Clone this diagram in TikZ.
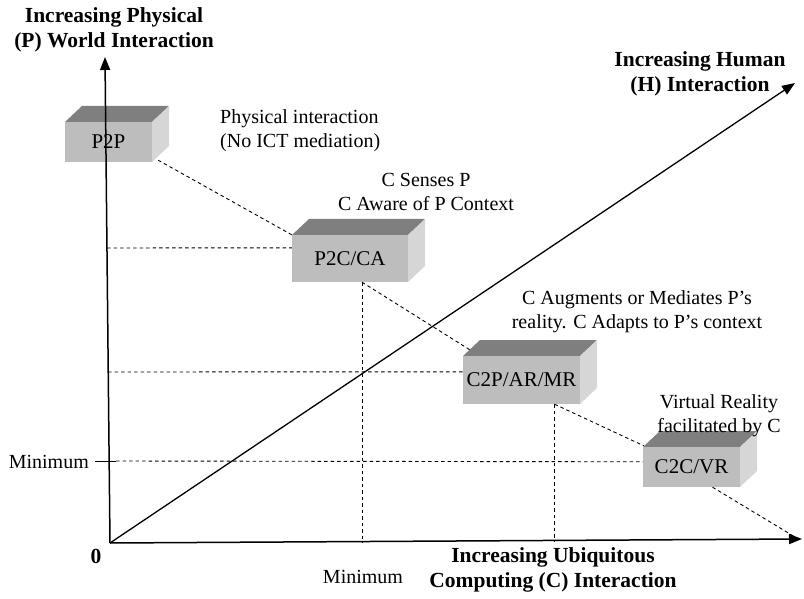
\documentclass[tikz,border=0pt]{standalone}
\usepackage{fontspec}
\setmainfont{Liberation Serif}
\usetikzlibrary{arrows.meta,calc}
\definecolor{boxtop}{HTML}{7F7F7F}
\definecolor{boxfront}{HTML}{BDBDBD}
\definecolor{boxside}{HTML}{D6D6D6}
\newcommand\tdbox[6]{%
  \fill[boxtop] (#2,#3) -- ++(17,-16) -- ({#4+17},{#3-16}) -- (#4,#3) -- cycle;
  \fill[boxside] (#4,#3) -- ++(17,-16) -- ({#4+17},{#5-16}) -- (#4,#5) -- cycle;
  \node[boxface, minimum width={(#4-#2)*1pt}, minimum height={(#5-#3)*1pt}] (#1) at ({(#2+#4)/2},{(#3+#5)/2}) {#6};
}
\begin{document}
\begin{tikzpicture}[x=1pt,y=-1pt,
  axis/.style={line width=1.5pt,-{Triangle[length=13pt,width=10pt]}},
  guide/.style={dash pattern=on 3.5pt off 3pt, line width=0.9pt},
  lbl/.style={font=\fontsize{20}{24}\selectfont, align=center, inner sep=0pt},
  blbl/.style={font=\fontsize{21.5}{24.5}\selectfont\bfseries, inner sep=0pt},
  boxface/.style={fill=boxfront, draw=none, inner sep=0pt, font=\fontsize{21}{24}\selectfont}
]
\useasboundingbox (0,0) rectangle (804,599);

% coordinates
\coordinate (O) at (110,543);
\coordinate (Ytop) at (105,57);
\coordinate (Xend) at (802,539);
\coordinate (Htop) at (795,83);
\coordinate (tail) at (795,537);

% boxes
\tdbox{p2p}{65}{122}{152}{162}{P2P}
\tdbox{p2c}{292}{235}{408}{282}{P2C/CA}
\tdbox{c2p}{463}{356}{580}{404}{C2P/AR/MR}
\tdbox{c2c}{643}{447}{740}{487}{C2C/VR}

% guide points on axes
\coordinate (h1) at (107,248);
\coordinate (h2) at (108,372);
\coordinate (h3) at (95,461);
\coordinate (h3e) at (116,461);
\coordinate (v1) at ($(p2c.south)+(12,0)$);
\coordinate (v2) at ($(c2p.south)+(33,0)$);

% dashed guides
\draw[guide] ($(p2p.south east)+(6,-2)$) -- (p2c.north west);
\draw[guide] (v1) -- ($(c2p.north west)+(7,-6)$);
\draw[guide] (v2) -- ($(c2c.north west)+(1,-1)$);
\draw[guide] ($(c2c.south)+(21,0)$) -- (tail);
\draw[guide] (v1) -- (v1 |- O);
\draw[guide] (v2) -- ($(v2 |- O)+(0,-2)$);
\draw[guide] (h1) -- ($(p2c.north west)+(0,13)$);
\draw[guide] (h2) -- ($(c2p.north west)+(0,16)$);
\draw[guide] (h3e) -- ($(c2c.north west)+(0,15)$);
\draw[line width=0.9pt] (h3) -- (h3e);

% axes
\draw[axis] (O) -- (Ytop);
\draw[axis] (O) -- (Xend);
\draw[axis, line width=1.3pt] (O) -- (Htop);

% axis labels
\node[blbl, align=center] (ylab) at (114,30) {Increasing Physical\\(P) World Interaction};
\node[blbl, align=center] (hlab) at (700,74) {Increasing Human\\(H) Interaction};
\node[blbl, align=center] (xlab) at (553,570) {Increasing Ubiquitous\\Computing (C) Interaction};
\node[blbl] (zero) at (96,556) {0};
\node[lbl, anchor=east] (minl) at (89,462) {Minimum};
\node[lbl] (minb) at (363,577) {Minimum};

% annotations
\node[lbl, align=left, anchor=west] (a1) at (220,131) {Physical interaction\\(No ICT mediation)};
\node[lbl] (a2) at (426,192) {C Senses P\\C Aware of P Context};
\node[lbl] (a3) at (637,312) {C Augments or Mediates P’s\\reality. C Adapts to P’s context};
\node[lbl] (a4) at (719,416) {Virtual Reality\\facilitated by C};
\end{tikzpicture}
\end{document}
